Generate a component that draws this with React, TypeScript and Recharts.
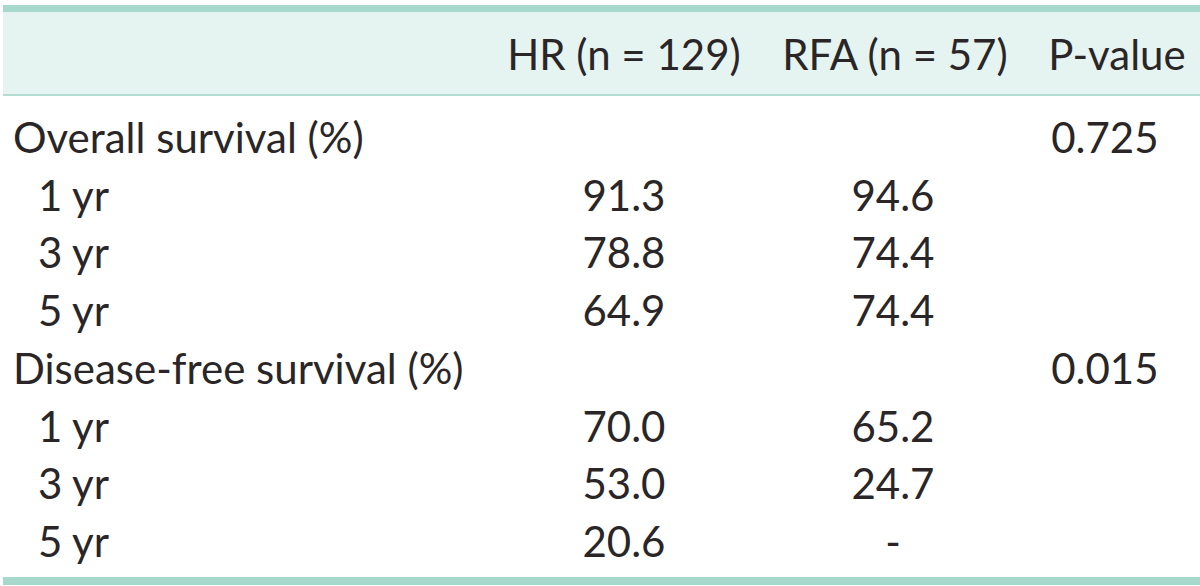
import React from 'react';
import { ScatterChart, Scatter, XAxis, YAxis } from 'recharts';

// table content
const rowLabels = [
  'Overall survival (%)',
  '1 yr',
  '3 yr',
  '5 yr',
  'Disease-free survival (%)',
  '1 yr',
  '3 yr',
  '5 yr',
];
const groupRows = [true, false, false, false, true, false, false, false];
const columns = ['HR (n = 129)', 'RFA (n = 57)', 'P-value'];
const hrValues = [null, 91.3, 78.8, 64.9, null, 70.0, 53.0, 20.6];
const rfaValues = [null, 94.6, 74.4, 74.4, null, 65.2, 24.7, null];
const pValues = [0.725, null, null, null, 0.015, null, null, null];

const W = 1200;
const H = 586;
const FONT = 'Lato, "Open Sans", sans-serif';
const FS = 42;
const FW = 400;
const INK = '#2a2627';
const TEAL = '#a6d8cc';
const BAND = '#e6f4f1';

const headerShift = [0, 27, 5];
const valueShift = [0, 25, -7];

const cells = [
  ...hrValues.map((v, row) => ({ col: 0, row, text: v == null ? '' : v.toFixed(1) })),
  ...rfaValues.map((v, row) => ({ col: 1, row, text: v == null ? (groupRows[row] ? '' : '-') : v.toFixed(1) })),
  ...pValues.map((v, row) => ({ col: 2, row, text: v == null ? '' : v.toFixed(3) })),
].filter((c) => c.text !== '');

const Cell = (props: any) => {
  const { cx, cy, payload } = props;
  return (
    <text
      x={cx + valueShift[payload.col]}
      y={cy + 15}
      textAnchor="middle"
      fontFamily={FONT}
      fontSize={FS}
      fontWeight={FW}
      fill={INK}
    >
      {payload.text}
    </text>
  );
};

const HeaderTick = (props: any) => {
  const { x, payload } = props;
  return (
    <text
      x={x + headerShift[payload.value]}
      y={70}
      textAnchor="middle"
      fontFamily={FONT}
      fontSize={FS}
      fontWeight={FW}
      fill={INK}
    >
      {columns[payload.value]}
    </text>
  );
};

const RowTick = (props: any) => {
  const { y, payload } = props;
  const i = payload.value;
  return (
    <text
      x={groupRows[i] ? 13 : 38}
      y={y + 15}
      textAnchor="start"
      fontFamily={FONT}
      fontSize={FS}
      fontWeight={FW}
      fill={INK}
    >
      {rowLabels[i]}
    </text>
  );
};

export default function App() {
  return (
    <div style={{ width: W, height: H, background: '#fff' }}>
      <style>{'body{margin:0;}'}</style>
      <ScatterChart width={W} height={H} margin={{ top: 0, right: 0, bottom: 15, left: 0 }}>
        <rect x={3} y={12} width={W - 3} height={82} fill={BAND} />
        <rect x={3} y={5} width={W - 3} height={7} fill={TEAL} />
        <rect x={3} y={94} width={W - 3} height={2} fill="#b3ddd3" />
        <rect x={3} y={577} width={W - 3} height={8} fill={TEAL} />
        <XAxis
          type="number"
          dataKey="col"
          orientation="top"
          domain={[-0.549, 2.361]}
          ticks={[0, 1, 2]}
          height={109}
          axisLine={false}
          tickLine={false}
          tick={<HeaderTick />}
        />
        <YAxis
          type="number"
          dataKey="row"
          domain={[-0.5, 7.5]}
          reversed
          ticks={[0, 1, 2, 3, 4, 5, 6, 7]}
          width={490}
          axisLine={false}
          tickLine={false}
          tick={<RowTick />}
        />
        <Scatter data={cells} shape={<Cell />} isAnimationActive={false} />
      </ScatterChart>
    </div>
  );
}
